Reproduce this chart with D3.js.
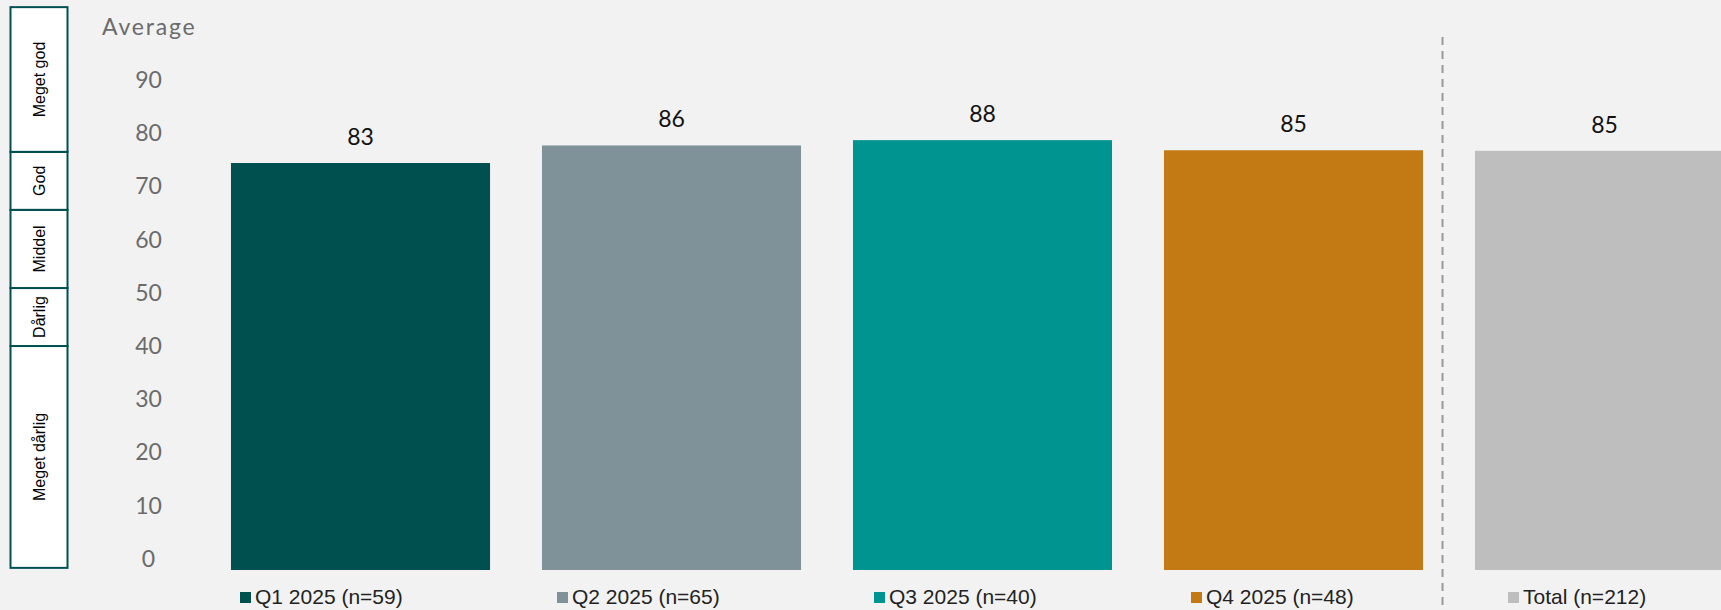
<!DOCTYPE html>
<html><head><meta charset="utf-8">
<script src="https://cdn.jsdelivr.net/npm/d3@7"></script>
<style>
html,body{margin:0;padding:0;background:#F2F2F2;}
svg{display:block;}
</style></head>
<body>
<svg id="chart" width="1721" height="610"></svg>
<script>
const categories = ["Q1 2025", "Q2 2025", "Q3 2025", "Q4 2025", "Total"];
const legendLabels = ["Q1 2025 (n=59)", "Q2 2025 (n=65)", "Q3 2025 (n=40)", "Q4 2025 (n=48)", "Total (n=212)"];
const barValues = [76.5, 79.8, 80.8, 78.9, 78.8];
const valueLabels = ["83", "86", "88", "85", "85"];
const colors = ["#00504F", "#7F929A", "#009490", "#C47A14", "#BEBEBE"];
const tickValues = [0, 10, 20, 30, 40, 50, 60, 70, 80, 90];
const bandNames = ["Meget dårlig", "Dårlig", "Middel", "God", "Meget god"];
const bandBounds = [0.4, 42.1, 53.0, 67.7, 78.6, 105.8];

const svg = d3.select("#chart");
const W = 1721, H = 610;

const y = d3.scaleLinear().domain([0, 100]).range([570, 38]);
const x = d3.scaleBand().domain(categories).range([205, 205 + 5 * 311])
  .paddingInner(0.167).paddingOuter(0.0835);

// rating box
const box = svg.append("g");
bandNames.forEach((name, i) => {
  const y0 = y(bandBounds[i]), y1 = y(bandBounds[i + 1]);
  box.append("rect").attr("x", 10.5).attr("y", y1).attr("width", 57).attr("height", y0 - y1)
    .attr("fill", "#fff").attr("stroke", "#00504F").attr("stroke-width", 2);
  box.append("text")
    .attr("transform", `translate(${39},${(y0 + y1) / 2}) rotate(-90)`)
    .attr("text-anchor", "middle").attr("dominant-baseline", "central")
    .attr("font-family", "Liberation Sans, Arial, sans-serif").attr("font-size", 16)
    .attr("fill", "#000").text(name);
});

// axis title
svg.append("text").attr("x", 102).attr("y", 35)
  .attr("font-family", "Lato, sans-serif").attr("font-size", 23).attr("fill", "#6b6b6b")
  .attr("letter-spacing", 1.8)
  .text("Average");

// y axis (labels only)
const yAxis = d3.axisLeft(y).tickValues(tickValues).tickSize(0).tickPadding(0);
const ag = svg.append("g").attr("transform", "translate(162,-11)").call(yAxis);
ag.select(".domain").remove();
ag.selectAll("text").attr("font-family", "Lato, sans-serif").attr("font-size", 23)
  .attr("fill", "#6b6b6b").attr("text-anchor", "middle").attr("x", -13.5);

// bars
svg.selectAll("rect.bar").data(categories).join("rect").attr("class", "bar")
  .attr("x", d => x(d)).attr("width", x.bandwidth())
  .attr("y", (d, i) => y(barValues[i])).attr("height", (d, i) => y(0) - y(barValues[i]))
  .attr("fill", (d, i) => colors[i]);

// value labels
svg.selectAll("text.val").data(categories).join("text").attr("class", "val")
  .attr("x", d => x(d) + x.bandwidth() / 2)
  .attr("y", (d, i) => y(barValues[i]) - 18)
  .attr("text-anchor", "middle")
  .attr("font-family", "Lato, sans-serif").attr("font-size", 23).attr("fill", "#111")
  .text((d, i) => valueLabels[i]);

// dashed separator
const sepX = x("Q4 2025") + x.bandwidth() + 19.5;
svg.append("line").attr("x1", sepX).attr("x2", sepX).attr("y1", 37).attr("y2", H)
  .attr("stroke", "#9a9a9a").attr("stroke-width", 2).attr("stroke-dasharray", "8,6");

// legend
const lg = svg.selectAll("g.leg").data(legendLabels).join("g").attr("class", "leg")
  .attr("transform", (d, i) => `translate(${240 + i * 317},592)`);
lg.append("rect").attr("width", 11).attr("height", 11).attr("fill", (d, i) => colors[i]);
lg.append("text").attr("x", 15).attr("y", 12)
  .attr("font-family", "Liberation Sans, Arial, sans-serif").attr("font-size", 21).attr("fill", "#222")
  .text(d => d);
</script>
</body></html>
